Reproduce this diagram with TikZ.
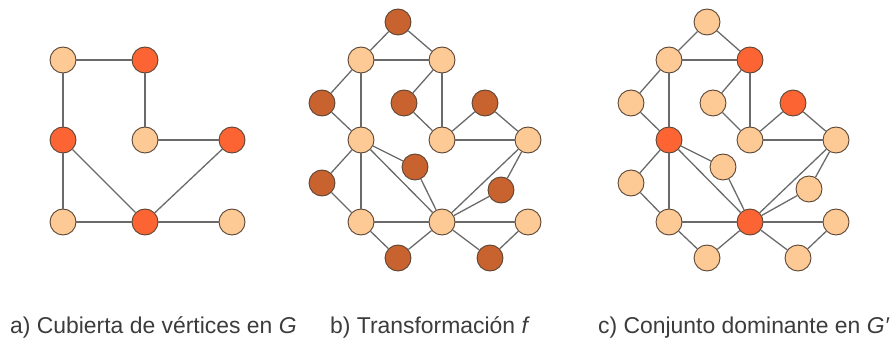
\documentclass[tikz,border=0pt]{standalone}
\usepackage{fontspec}
\setmainfont{Liberation Sans}
\definecolor{peach}{HTML}{FDCA95}
\definecolor{redn}{HTML}{FC6533}
\definecolor{darkn}{HTML}{C8622F}
\definecolor{nborder}{HTML}{5A4535}
\definecolor{edgec}{HTML}{6A6A6A}
\definecolor{txt}{HTML}{3C3C3C}
\tikzset{
  vtx/.style={circle, minimum size=26pt, inner sep=0pt, draw=nborder, line width=0.9pt},
  lt/.style={vtx, fill=peach},
  rd/.style={vtx, fill=redn},
  dk/.style={vtx, fill=darkn},
  edg/.style={draw=edgec, line width=1.3pt},
  captxt/.style={anchor=base west, inner sep=0pt, text=txt, font=\fontsize{22.9}{25}\selectfont}
}
\begin{document}
\begin{tikzpicture}[x=1pt,y=-1pt]
\useasboundingbox (0,0) rectangle (894,339);
% ---- graph a
\node[lt] (a1) at (63,60) {};
\node[rd] (a2) at (145,60) {};
\node[rd] (a3) at (63,140) {};
\node[lt] (a4) at (145,140) {};
\node[rd] (a5) at (232,140) {};
\node[lt] (a6) at (63,222) {};
\node[rd] (a7) at (145,222) {};
\node[lt] (a8) at (232,222) {};
\foreach \u/\v in {a1/a2,a1/a3,a2/a4,a4/a5,a3/a6,a3/a7,a5/a7,a6/a7,a7/a8}
  \draw[edg] (\u) -- (\v);
% ---- graph b
\node[dk] (bt) at (398,22) {};
\node[lt] (bl) at (361,60) {};
\node[lt] (br) at (442,60) {};
\node[dk] (bd1) at (322,103) {};
\node[dk] (bd2) at (404,103) {};
\node[dk] (bd3) at (485,103) {};
\node[lt] (bcl) at (361,140) {};
\node[lt] (bcm) at (442,140) {};
\node[lt] (bcr) at (528,140) {};
\node[dk] (bd4) at (415,167) {};
\node[dk] (bd5) at (322,183) {};
\node[dk] (bd6) at (501,190) {};
\node[lt] (bel) at (361,222) {};
\node[lt] (bem) at (442,222) {};
\node[lt] (ber) at (528,222) {};
\node[dk] (bf1) at (398,258) {};
\node[dk] (bf2) at (490,258) {};
\foreach \u/\v in {bt/bl,bt/br,bl/br,bl/bd1,bd1/bcl,bl/bcl,br/bd2,bd2/bcm,br/bcm,bcm/bd3,bd3/bcr,bcm/bcr,bcl/bd4,bcl/bem,bcl/bd5,bd5/bel,bcl/bel,bd4/bem,bcr/bem,bcr/bd6,bd6/bem,bel/bem,bem/ber,bel/bf1,bf1/bem,bem/bf2,bf2/ber}
  \draw[edg] (\u) -- (\v);
% ---- graph c
\node[lt] (ct) at (707,22) {};
\node[lt] (cl) at (669,60) {};
\node[rd] (cr) at (750,60) {};
\node[lt] (cd1) at (631,103) {};
\node[lt] (cd2) at (713,103) {};
\node[rd] (cd3) at (793,103) {};
\node[rd] (ccl) at (669,140) {};
\node[lt] (ccm) at (750,140) {};
\node[lt] (ccr) at (836,140) {};
\node[lt] (cd4) at (723,167) {};
\node[lt] (cd5) at (631,183) {};
\node[lt] (cd6) at (809,189) {};
\node[lt] (cel) at (669,222) {};
\node[rd] (cem) at (750,222) {};
\node[lt] (cer) at (836,222) {};
\node[lt] (cf1) at (707,258) {};
\node[lt] (cf2) at (798,258) {};
\foreach \u/\v in {ct/cl,ct/cr,cl/cr,cl/cd1,cd1/ccl,cl/ccl,cr/cd2,cd2/ccm,cr/ccm,ccm/cd3,cd3/ccr,ccm/ccr,ccl/cd4,ccl/cem,ccl/cd5,cd5/cel,ccl/cel,cd4/cem,ccr/cem,ccr/cd6,cd6/cem,cel/cem,cem/cer,cel/cf1,cf1/cem,cem/cf2,cf2/cer}
  \draw[edg] (\u) -- (\v);
% ---- captions
\node[captxt] (capa) at (10,333) {a) Cubierta de vértices en \textit{G}};
\node[captxt] (capb) at (330,333) {b) Transformación \textit{f}};
\node[captxt] (capc) at (598,333) {c) Conjunto dominante en \textit{G′}};
\end{tikzpicture}
\end{document}
